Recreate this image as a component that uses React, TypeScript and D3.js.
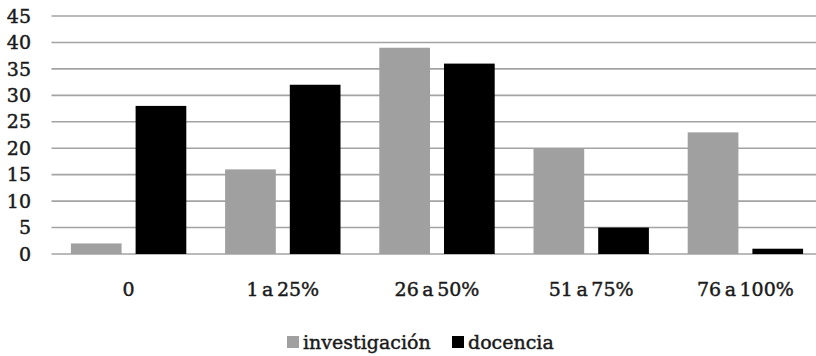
import React from "react";
import * as d3 from "d3";

const categories = ["0", "1 a 25%", "26 a 50%", "51 a 75%", "76 a 100%"];
const seriesNames = ["investigación", "docencia"];
const investigacion = [2, 16, 39, 20, 23];
const docencia = [28, 32, 36, 5, 1];
const yTicks = [0, 5, 10, 15, 20, 25, 30, 35, 40, 45];
const colors = ["#a0a0a0", "#000000"];

const W = 816;
const H = 356;
const FONT = "'DejaVu Serif', 'Liberation Serif', serif";
const FS = 19;
const textStyle = {
  fontFamily: FONT,
  fontSize: FS,
  fill: "#1a1a1a",
  stroke: "#1a1a1a",
  strokeWidth: 0.45,
  wordSpacing: -2.5,
} as const;

export default function App() {
  const x = d3.scaleBand<string>().domain(categories).range([51.5, 822.5]).padding(0);
  const xInner = d3
    .scaleBand<string>()
    .domain(seriesNames)
    .range([19.4, x.bandwidth() - 19.4])
    .paddingInner(0.2164)
    .paddingOuter(0);
  const y = d3.scaleLinear().domain([0, 45]).range([254, 16]);
  const series = [investigacion, docencia];

  return (
    <div style={{ position: "absolute", left: 0, top: 0 }}>
      <svg width={W} height={H} style={{ display: "block", background: "#fff" }}>
        <g>
          {yTicks.map((t) => (
            <line key={t} x1={51.5} x2={W} y1={y(t)} y2={y(t)} stroke="#a3a3a3" strokeWidth={1.6} />
          ))}
          {yTicks.map((t) => (
            <text key={"l" + t} x={31} y={y(t)} dy="0.35em" textAnchor="end" style={textStyle}>
              {t}
            </text>
          ))}
        </g>
        <g>
          {categories.map((c, i) => (
            <g key={c} transform={`translate(${x(c)},0)`}>
              {seriesNames.map((s, j) => (
                <rect
                  key={s}
                  x={xInner(s)}
                  y={y(series[j][i])}
                  width={xInner.bandwidth()}
                  height={y(0) - y(series[j][i])}
                  fill={colors[j]}
                />
              ))}
              <text x={x.bandwidth() / 2} y={289} dy="0.35em" textAnchor="middle" style={textStyle}>
                {c}
              </text>
            </g>
          ))}
        </g>
        <g>
          <rect x={287} y={336} width={12} height={12} fill={colors[0]} />
          <text x={303} y={342} dy="0.35em" style={textStyle}>
            {seriesNames[0]}
          </text>
          <rect x={452} y={336} width={12} height={12} fill={colors[1]} />
          <text x={468} y={342} dy="0.35em" style={textStyle}>
            {seriesNames[1]}
          </text>
        </g>
      </svg>
    </div>
  );
}
